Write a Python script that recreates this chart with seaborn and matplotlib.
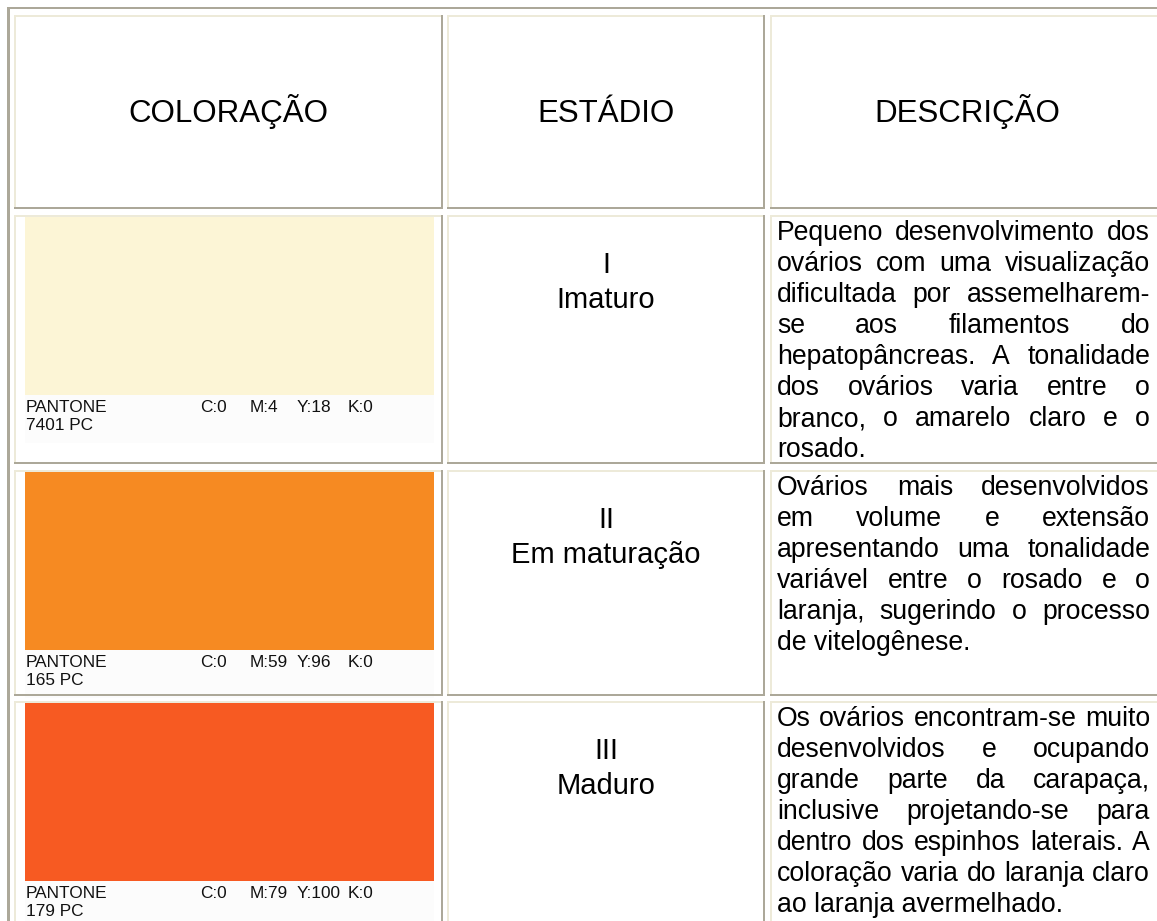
"""
Ovary maturation stages: colour chart rebuilt as a figure
"""

import matplotlib
matplotlib.use("Agg")
import matplotlib.pyplot as plt
from matplotlib.colors import ListedColormap
from matplotlib.patches import Rectangle
import seaborn as sns
import numpy as np

# ---- data -------------------------------------------------------------
headers = ["COLORAÇÃO", "ESTÁDIO", "DESCRIÇÃO"]
stage_numbers = ["I", "II", "III"]
stage_names = ["Imaturo", "Em maturação", "Maduro"]
swatch_colors = ["#FCF5D6", "#F68A22", "#F75A22"]
pantone_codes = ["7401 PC", "165 PC", "179 PC"]
cmyk_c = [0, 0, 0]
cmyk_m = [4, 59, 79]
cmyk_y = [18, 96, 100]
cmyk_k = [0, 0, 0]
descriptions = [
    ["Pequeno desenvolvimento dos",
     "ovários com uma visualização",
     "dificultada por assemelharem-",
     "se aos filamentos do",
     "hepatopâncreas. A tonalidade",
     "dos ovários varia entre o",
     "branco, o amarelo claro e o",
     "rosado."],
    ["Ovários mais desenvolvidos",
     "em volume e extensão",
     "apresentando uma tonalidade",
     "variável entre o rosado e o",
     "laranja, sugerindo o processo",
     "de vitelogênese."],
    ["Os ovários encontram-se muito",
     "desenvolvidos e ocupando",
     "grande parte da carapaça,",
     "inclusive projetando-se para",
     "dentro dos espinhos laterais. A",
     "coloração varia do laranja claro",
     "ao laranja avermelhado."],
]

# ---- layout (pixels) --------------------------------------------------
W, H = 1157, 921
col_x = [(14, 443), (447, 765), (770, 1170)]
row_y = [(15, 209), (215, 464), (470, 696), (701, 940)]
DARK = "#ACA899"
LIGHT = "#EDEAD9"
TEXT_LEFT, TEXT_RIGHT = 777, 1150
LINE_STEP = 31.0

sns.set_theme(style="white")
plt.rcParams['font.family'] = ['Liberation Sans', 'DejaVu Sans']

fig = plt.figure(figsize=(W / 100, H / 100), dpi=100)
fig.patch.set_facecolor("white")
ax = fig.add_axes([0, 0, 1, 1])
ax.set_xlim(0, W)
ax.set_ylim(H, 0)
ax.axis('off')


def strip(x0, y0, x1, y1, color):
    ax.add_patch(Rectangle((x0, y0), x1 - x0, y1 - y0, facecolor=color,
                           edgecolor='none', zorder=2))


# outer table border
strip(7, 7, W, 9.5, DARK)
strip(7, 7, 9.5, H, DARK)

# cell borders: light top/left, dark bottom/right
for (y0, y1) in row_y:
    for (x0, x1) in col_x:
        strip(x0, y0, x1, y0 + 2, LIGHT)
        strip(x0, y0, x0 + 2, y1, LIGHT)
        strip(x0, y1 - 2, x1, y1, DARK)
        strip(x1 - 2, y0, x1, y1, DARK)

# header row
header_base = 122
header_cx = [228.5, 606, 967]
for cx, label in zip(header_cx, headers):
    ax.text(cx, header_base, label, ha='center', va='baseline', fontsize=22.5,
            color='black')

renderer = fig.canvas.get_renderer()
body_kw = dict(fontsize=19.2, color='black', va='baseline', ha='left')


def text_width(s, **kw):
    t = ax.text(0, 0, s, **kw)
    w = t.get_window_extent(renderer).width
    t.remove()
    return w


for i in range(3):
    top = row_y[i + 1][0]

    # colour swatch drawn as a one-cell heatmap
    sx0, sx1 = 25, 434
    sy0, sy1 = top + 2, top + 180
    ax.add_patch(Rectangle((sx0, sy0), sx1 - sx0, sy1 - sy0 + 48,
                           facecolor="#FCFCFC", edgecolor='none', zorder=1))
    sax = fig.add_axes([sx0 / W, 1 - sy1 / H, (sx1 - sx0) / W, (sy1 - sy0) / H])
    sns.heatmap(np.zeros((1, 1)), cmap=ListedColormap([swatch_colors[i]]),
                cbar=False, ax=sax, xticklabels=False, yticklabels=False)
    sax.axis('off')

    lab_kw = dict(fontsize=12.4, color='#111111', va='center', ha='left')
    ax.text(26, sy1 + 12, "PANTONE", **lab_kw)
    ax.text(26, sy1 + 30, pantone_codes[i], **lab_kw)
    ax.text(200, sy1 + 12, f"C:{cmyk_c[i]}", **lab_kw)
    ax.text(250, sy1 + 12, f"M:{cmyk_m[i]}", **lab_kw)
    ax.text(297, sy1 + 12, f"Y:{cmyk_y[i]}", **lab_kw)
    ax.text(348, sy1 + 12, f"K:{cmyk_k[i]}", **lab_kw)

    # stage
    ax.text(606, top + 50, stage_numbers[i], ha='center', va='center',
            fontsize=21, color='black')
    ax.text(606, top + 85, stage_names[i], ha='center', va='center',
            fontsize=21, color='black')

    # justified description
    lines = descriptions[i]
    for j, line in enumerate(lines):
        yb = top + 25 + j * LINE_STEP
        words = line.split()
        if j == len(lines) - 1 or len(words) == 1:
            ax.text(TEXT_LEFT, yb, line, **body_kw)
            continue
        widths = [text_width(w, **body_kw) for w in words]
        gap = (TEXT_RIGHT - TEXT_LEFT - sum(widths)) / (len(words) - 1)
        x = TEXT_LEFT
        for w, ww in zip(words, widths):
            ax.text(x, yb, w, **body_kw)
            x += ww + gap

plt.savefig('out.png', dpi=100)
plt.close()
